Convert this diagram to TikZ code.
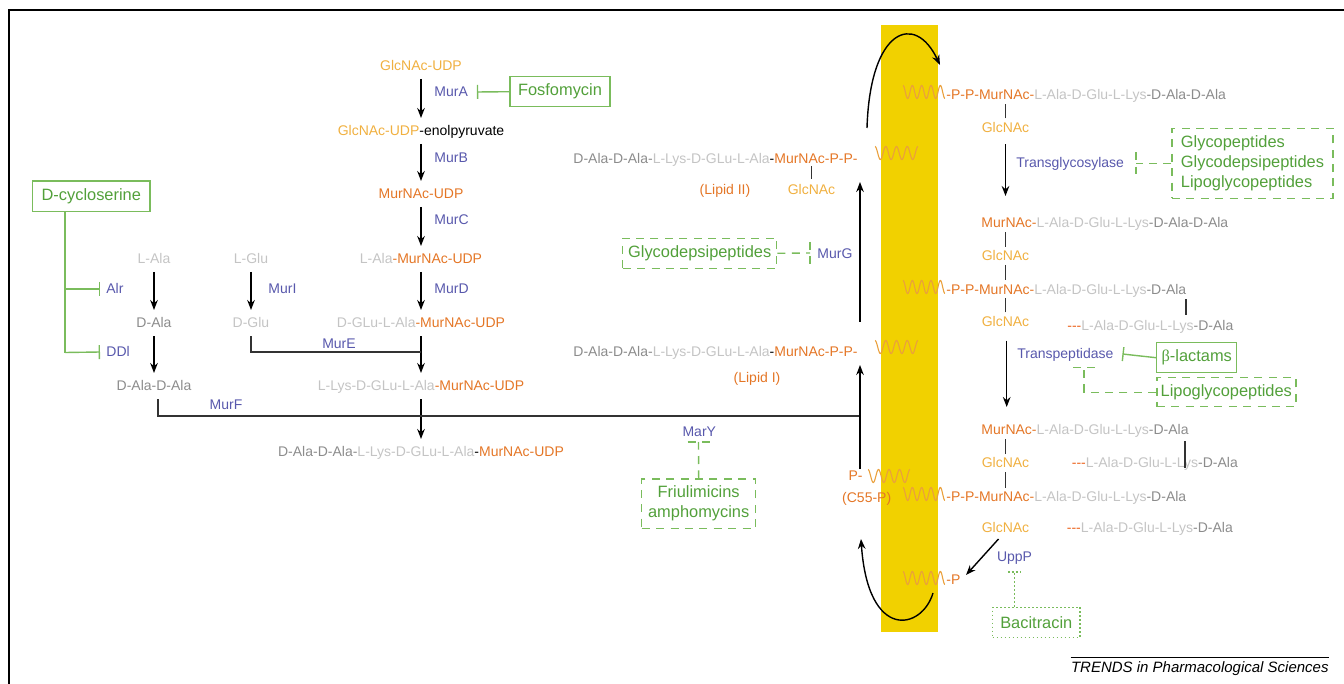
\documentclass[tikz,border=0pt]{standalone}
\usepackage{fontspec}
\setmainfont{Liberation Sans}
\newfontfamily\betafont{Liberation Serif}
\usetikzlibrary{arrows.meta}
\definecolor{glc}{RGB}{240,176,64}
\definecolor{mur}{RGB}{228,118,38}
\definecolor{pepl}{RGB}{196,196,196}
\definecolor{pepd}{RGB}{140,140,140}
\definecolor{enz}{RGB}{88,88,172}
\definecolor{drugt}{RGB}{82,160,58}
\definecolor{drugl}{RGB}{122,188,92}
\definecolor{memb}{RGB}{241,209,0}
\definecolor{squig}{RGB}{234,160,60}
\definecolor{xlk}{RGB}{236,100,30}
\newcommand{\cglc}[1]{\textcolor{glc}{#1}}
\newcommand{\cmur}[1]{\textcolor{mur}{#1}}
\newcommand{\cpl}[1]{\textcolor{pepl}{#1}}
\newcommand{\cpd}[1]{\textcolor{pepd}{#1}}
\newcommand{\cxl}[1]{\textcolor{xlk}{#1}}
\newcommand{\tripdash}{-{}-{}-{}}
\newcommand{\wavy}[4]{\draw[sq] plot[domain=0:#3,samples=140] ({#1+\x*#4/#3},{#2-6.5*cos(\x*360)});}
\begin{document}
\begin{tikzpicture}[x=0.5pt,y=-0.5pt,
  txt/.style={inner sep=0pt,text height=5.6pt,text depth=1pt,font=\fontsize{7}{8.4}\selectfont},
  enzn/.style={txt,text=enz},
  drugbox/.style={draw=drugl,line width=0.7pt,inner sep=0pt,text=drugt,font=\fontsize{8.2}{10}\selectfont},
  dbox/.style={drugbox,dash pattern=on 4pt off 3.2pt},
  pbox/.style={drugbox,dash pattern=on 0.8pt off 1.2pt},
  arr/.style={-{Stealth[length=5pt,width=3.8pt]},line width=0.7pt,black},
  varr/.style={arr,shorten <=3pt,shorten >=3pt},
  link/.style={line width=0.6pt,black!80},
  gl/.style={drugl,line width=0.7pt},
  inh/.style={gl,-{Bar[width=7pt]}},
  dsh/.style={gl,dash pattern=on 4pt off 3.2pt},
  dtt/.style={gl,dash pattern=on 0.8pt off 1.2pt},
  sq/.style={squig,line width=0.55pt}]
\useasboundingbox (0,0) rectangle (1344,684);
% frame
\draw[line width=0.9pt] (9,684) -- (9,10) -- (1344,10);
% membrane
\fill[memb] (881,25) rectangle (938,632);
% squiggles (lipid chains)
\wavy{875}{153}{4}{43}
\wavy{875}{347}{4}{43}
\wavy{868}{476}{4}{42}
\wavy{903}{92}{4.5}{42}
\wavy{903}{287}{4.5}{42}
\wavy{903}{494}{4.5}{42}
\wavy{903}{578}{4.5}{42}

% ---------- left column ----------
\node[txt] (glcudp) at (421,66) {\cglc{GlcNAc-UDP}};
\node[txt] (enol) at (421,131) {\cglc{GlcNAc-UDP}-enolpyruvate};
\node[txt] (murudp) at (421,194) {\cmur{MurNAc-UDP}};
\node[txt] (alamur) at (421,259) {\cpl{L-Ala}\cmur{-MurNAc-UDP}};
\node[txt] (dglumur) at (421,323) {\cpl{D-GLu-L-Ala}\cmur{-MurNAc-UDP}};
\node[txt] (lysmur) at (421,386) {\cpl{L-Lys-D-GLu-L-Ala}\cmur{-MurNAc-UDP}};
\node[txt] (penta) at (421,452) {\cpd{D-Ala-D-Ala-}\cpl{L-Lys-D-GLu-L-Ala}-\cmur{MurNAc-UDP}};

\node[enzn,anchor=west] (murA) at (434,92) {MurA};
\node[enzn,anchor=west] (murB) at (434,158) {MurB};
\node[enzn,anchor=west] (murC) at (434,220) {MurC};
\node[enzn,anchor=west] (murD) at (434,289) {MurD};
\node[enzn,anchor=west] (murI) at (268,289) {MurI};
\node[enzn] (murE) at (339,344) {MurE};
\node[enzn] (murF) at (226,405) {MurF};
\node[enzn,anchor=west] (alr) at (106,289) {Alr};
\node[enzn,anchor=west] (ddl) at (106,352) {DDl};

\node[txt,text=pepl] (lala) at (154,259) {L-Ala};
\node[txt,text=pepd] (dala) at (154,323) {D-Ala};
\node[txt,text=pepd] (dada) at (154,386) {D-Ala-D-Ala};
\node[txt,text=pepl] (lglu) at (251,259) {L-Glu};
\node[txt,text=pepl] (dglu) at (251,323) {D-Glu};

\draw[varr] (glcudp) -- (enol);
\draw[varr] (enol) -- (murudp);
\draw[varr] (murudp) -- (alamur);
\draw[varr] (alamur) -- (dglumur);
\draw[varr] (dglumur) -- (lysmur);
\draw[varr] (lysmur) -- (penta);
\draw[varr] (lala) -- (dala);
\draw[varr] (dala) -- (dada);
\draw[varr] (lglu) -- (dglu);

\coordinate (murEj) at (421,352);
\draw[link,shorten <=3pt] (dglu.south) |- (murEj);
\coordinate (murFj) at (860,416);
\coordinate (dadaF) at (158,386);
\draw[link,shorten <=3pt] (dadaF |- dada.south) |- (murFj);

% D-cycloserine
\node[drugbox,minimum width=58.7pt,minimum height=15.3pt] (dcs) at (91.3,196.3) {D-cycloserine};
\coordinate (dcsA) at (65,289);
\coordinate (dcsD) at (65,352.5);
\draw[gl] (dcs.south -| dcsA) -- (dcsD);
\draw[inh] (dcsA) -- ([xshift=-3pt]alr.west);
\draw[inh] (dcsD) -- ([xshift=-3pt]ddl.west);

% Fosfomycin
\node[drugbox,minimum width=50pt,minimum height=15pt] (fos) at (560,91.7) {Fosfomycin};
\draw[inh] (fos.west) -- ([xshift=4.3pt]murA.east);

% ---------- lipid intermediates ----------
\node[txt,anchor=east] (lip2) at (858,159) {\cpd{D-Ala-D-Ala-}\cpl{L-Lys-D-GLu-L-Ala}-\cmur{MurNAc-P-P-}};
\node[txt,text=glc] (lip2g) at (811.5,190) {GlcNAc};
\node[txt,text=mur] (lip2l) at (725,190) {(Lipid II)};
\draw[link,shorten <=2pt] (lip2g.north) -- (lip2g |- lip2.south);

\node[txt,anchor=east] (lip1) at (858,352) {\cpd{D-Ala-D-Ala-}\cpl{L-Lys-D-GLu-L-Ala}-\cmur{MurNAc-P-P-}};
\node[txt,text=mur] (lip1l) at (757,377.5) {(Lipid I)};

\node[enzn,anchor=west] (murG) at (817,253.5) {MurG};
\node[dbox,minimum width=77pt,minimum height=15pt] (gdp) at (699.7,253.3) {Glycodepsipeptides};
\coordinate (mgbar) at (810,253);
\draw[dsh] (gdp.east) -- (mgbar);
\draw[dsh] ([yshift=5.5pt]mgbar) -- ([yshift=-5.5pt]mgbar);

\node[txt,text=mur,anchor=east] (c55p) at (863,476) {P-};
\node[txt,text=mur] (c55) at (866.7,498) {(C55-P)};

\coordinate (lipA) at (860,322);
\draw[arr] (lipA) -- ([xshift=1pt,yshift=-8pt]lip2.south east);
\draw[arr] ([xshift=-1.5pt]c55p.north east) -- ([xshift=1pt,yshift=-3pt]lip1.south east);

\node[enzn] (mary) at (699.3,431.7) {MarY};
\node[dbox,align=center,minimum width=57pt,minimum height=24.6pt] (friu) at (698.7,503.7) {Friulimicins\\amphomycins};
\coordinate (marybar) at (698.5,442);
\draw[dsh] (friu.north) -- (marybar);
\draw[dsh] ([xshift=-5.5pt]marybar) -- ([xshift=5.5pt]marybar);

% flipping arrows across membrane
\coordinate (crvA) at (867,128);
\coordinate (crvB) at (940,65);
\draw[arr] (crvA) .. controls (870,28) and (915,12) .. (crvB);
\coordinate (crvC) at (933,593);
\coordinate (crvD) at (861,539);
\draw[arr] (crvC) .. controls (922,630) and (868,642) .. (crvD);

% ---------- right column ----------
\node[txt,anchor=west] (r1) at (946,95) {\cmur{-P-P-MurNAc-}\cpl{L-Ala-D-Glu-L-Lys}\cpd{-D-Ala-D-Ala}};
\node[txt,text=glc] (g1) at (1005.5,127.5) {GlcNAc};
\node[txt,anchor=west] (r2) at (981,223) {\cmur{MurNAc-}\cpl{L-Ala-D-Glu-L-Lys}\cpd{-D-Ala-D-Ala}};
\node[txt,text=glc] (g2) at (1005.5,256) {GlcNAc};
\node[txt,anchor=west] (r3) at (946,289.5) {\cmur{-P-P-MurNAc-}\cpl{L-Ala-D-Glu-L-Lys}\cpd{-D-Ala}};
\node[txt,text=glc] (g3) at (1005.5,321.5) {GlcNAc};
\node[txt,anchor=west] (x3) at (1067,326) {\cxl{\tripdash}\cpl{L-Ala-D-Glu-L-Lys}\cpd{-D-Ala}};
\node[txt,anchor=west] (r4) at (981,430) {\cmur{MurNAc-}\cpl{L-Ala-D-Glu-L-Lys}\cpd{-D-Ala}};
\node[txt,text=glc] (g4) at (1005.5,463) {GlcNAc};
\node[txt,anchor=west] (x4) at (1071.5,463) {\cxl{\tripdash}\cpl{L-Ala-D-Glu-L-Lys}\cpd{-D-Ala}};
\node[txt,anchor=west] (r5) at (946,497) {\cmur{-P-P-MurNAc-}\cpl{L-Ala-D-Glu-L-Lys}\cpd{-D-Ala}};
\node[txt,text=glc] (g5) at (1005.5,528) {GlcNAc};
\node[txt,anchor=west] (x5) at (1066.5,528) {\cxl{\tripdash}\cpl{L-Ala-D-Glu-L-Lys}\cpd{-D-Ala}};
\node[txt,text=mur,anchor=west] (rp) at (946,580) {-P};

\draw[link,shorten <=1pt,shorten >=1pt] (g1.north) -- (g1 |- r1.south);
\draw[link,shorten <=1pt,shorten >=1pt] (g2.north) -- (g2 |- r2.south);
\draw[link,shorten <=1pt,shorten >=1pt] (g2.south) -- (g2 |- r3.north);
\draw[link,shorten <=1pt,shorten >=1pt] (g3.north) -- (g3 |- r3.south);
\draw[link,shorten <=1pt,shorten >=1pt] (g4.north) -- (g4 |- r4.south);
\draw[link,shorten <=1pt,shorten >=1pt] (g4.south) -- (g4 |- r5.north);

\coordinate (xk3) at (1186,315);
\draw[link,shorten <=1.5pt] (r3.south east -| xk3) -- (xk3);
\coordinate (xk4) at (1185,468);
\draw[link,shorten <=2pt] (r4.south east -| xk4) -- (xk4);

\draw[arr,shorten <=5pt,shorten >=10pt] (g1.south) -- (g1 |- r2.north);
\draw[arr,shorten <=6pt,shorten >=8pt] ([xshift=0.6pt]g3.south) -- ([xshift=0.6pt]g3 |- r4.north);

\node[enzn,anchor=west] (tg) at (1016,163) {Transglycosylase};
\node[enzn,anchor=west] (tp) at (1017,354) {Transpeptidase};
\node[enzn] (uppp) at (1014.5,557) {UppP};

\node[dbox,align=left,minimum width=80.5pt,minimum height=35pt] (glyco) at (1252.5,163.3) {Glycopeptides\\Glycodepsipeptides\\Lipoglycopeptides};
\coordinate (tgbar) at (1136,163.3);
\draw[dsh] (glyco.west) -- (tgbar);
\draw[dsh] ([yshift=5.5pt]tgbar) -- ([yshift=-5.5pt]tgbar);

\node[drugbox,minimum width=40pt,minimum height=15pt] (blac) at (1196.7,357.7) {{\betafont β}-lactams};
\draw[inh] (blac.west) -- ([xshift=4.3pt]tp.east);

\node[dbox,minimum width=69.5pt,minimum height=14.5pt] (lipo) at (1226.3,392.2) {Lipoglycopeptides};
\coordinate (tpbar) at (1084,367.5);
\draw[dsh] (lipo.west) -| (tpbar);
\draw[dsh] ([xshift=-5.5pt]tpbar) -- ([xshift=5.5pt]tpbar);

\coordinate (pend) at (966,575);
\draw[arr] ([xshift=-3.5pt,yshift=-2pt]g5.south) -- (pend);

\node[pbox,minimum width=43.6pt,minimum height=15.2pt] (bac) at (1036.3,622.5) {Bacitracin};
\coordinate (uppbar) at (1014.5,572);
\draw[dtt] (bac.north -| uppbar) -- (uppbar);
\draw[dtt] ([xshift=-3.3pt]uppbar) -- ([xshift=3.3pt]uppbar);

% caption
\node[txt,font=\fontsize{7.5}{9}\selectfont\itshape,anchor=east] (cap) at (1329,668) {TRENDS in Pharmacological Sciences};
\draw[line width=0.6pt] ([yshift=1.7pt]cap.north west) -- ([yshift=1.7pt]cap.north east);
\end{tikzpicture}
\end{document}
